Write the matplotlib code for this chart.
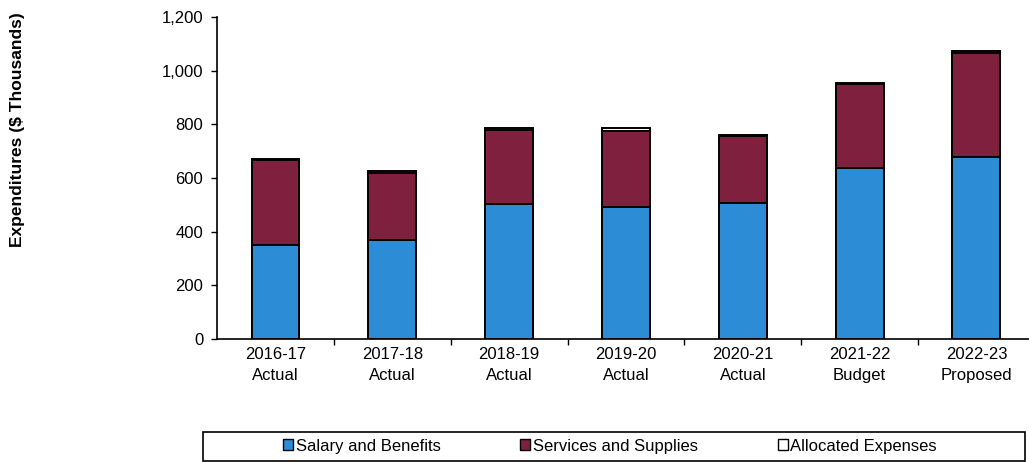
import matplotlib
matplotlib.use("Agg")
import matplotlib.pyplot as plt
from matplotlib.patches import Rectangle, Patch
import numpy as np

plt.rcParams['font.family'] = ['Liberation Sans', 'DejaVu Sans']

anios = ['2016-17\nActual', '2017-18\nActual', '2018-19\nActual', '2019-20\nActual',
         '2020-21\nActual', '2021-22\nBudget', '2022-23\nProposed']
salarios = [352, 368, 503, 493, 508, 639, 677]
servicios = [315, 252, 277, 283, 249, 310, 390]
asignados = [6, 5, 5, 12, 5, 7, 8]

azul = '#2d8cd6'
morado = '#80203f'

fig = plt.figure(figsize=(10.29, 4.62), dpi=100)
ax = fig.add_axes([0.211, 0.266, 0.789, 0.697])

x = np.arange(len(anios))
ancho = 0.41
ax.bar(x, salarios, ancho, color=azul, edgecolor='black', linewidth=1.4)
ax.bar(x, servicios, ancho, bottom=salarios, color=morado, edgecolor='black', linewidth=1.4)
base = np.array(salarios) + np.array(servicios)
ax.bar(x, asignados, ancho, bottom=base, color='white', edgecolor='black', linewidth=1.4)

ax.set_xlim(-0.5, 6.45)
ax.set_ylim(0, 1200)
ax.set_yticks(range(0, 1201, 200))
ax.set_yticklabels([f'{v:,}' for v in range(0, 1201, 200)], fontsize=12)
ax.set_xticks(x)
ax.set_xticklabels(anios, fontsize=12, linespacing=1.45)
ax.tick_params(axis='x', length=0, pad=6)
ax.set_xticks(x[:-1] + 0.5, minor=True)
ax.tick_params(axis='x', which='minor', length=4, width=1)
ax.tick_params(axis='y', length=4, width=1, pad=6)
for lado in ['top', 'right']:
    ax.spines[lado].set_visible(False)
ax.spines['left'].set_linewidth(1.2)
ax.spines['bottom'].set_linewidth(1.2)

fig.text(18 / 1029, 1 - 130 / 462, 'Expenditures ($ Thousands)', rotation=90,
         ha='center', va='center', fontsize=12.5, fontweight='bold')

# caja de la leyenda
fig.patches.append(Rectangle((203 / 1029, 1 - 461 / 462), 822 / 1029, 29 / 462,
                             transform=fig.transFigure, fill=False,
                             edgecolor='black', linewidth=1.2))
manejadores = [Patch(facecolor=azul, edgecolor='black'),
               Patch(facecolor=morado, edgecolor='black'),
               Patch(facecolor='white', edgecolor='black')]
nombres = ['Salary and Benefits', 'Services and Supplies', 'Allocated Expenses']
fig.legend(manejadores, nombres, loc='center', bbox_to_anchor=(610 / 1029, 1 - 446 / 462),
           ncol=3, frameon=False, fontsize=12, handlelength=0.6, handleheight=0.6,
           handletextpad=0.15, columnspacing=4.8)

fig.savefig('out.png', dpi=100)
